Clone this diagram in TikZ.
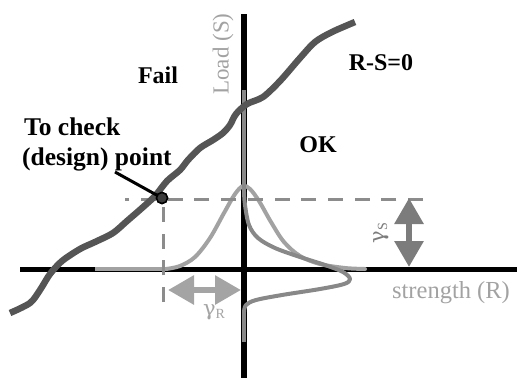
\documentclass[tikz,border=0pt]{standalone}
\usepackage{fontspec}
\setmainfont{Liberation Serif}
\newfontfamily\gfont{DejaVu Serif}
\usetikzlibrary{arrows.meta}
\definecolor{limitc}{HTML}{555555}
\definecolor{strc}{HTML}{A2A2A2}
\definecolor{loadc}{HTML}{888888}
\definecolor{dashc}{HTML}{8C8C8C}
\definecolor{gsc}{HTML}{7C7C7C}
\definecolor{grc}{HTML}{A4A4A4}
\definecolor{ptc}{HTML}{3C3C3C}
\begin{document}
\begin{tikzpicture}[x=1bp,y=-1bp,
  lbl/.style={font=\fontsize{24bp}{30bp}\selectfont\bfseries, inner sep=0pt},
  glbl/.style={font=\fontsize{23bp}{28bp}\selectfont, text=strc, inner sep=0pt},
  axisline/.style={line width=5bp, black},
  dashline/.style={line width=3bp, dashc, dash pattern=on 15bp off 11.7bp},
  bigarrow/.style={line width=6bp, {Triangle[length=26bp,width=28bp]}-{Triangle[length=26bp,width=28bp]}},
  dens/.style={line width=4bp, line join=round, line cap=round}
]
\useasboundingbox (0,0) rectangle (517,378);

% coordinates
\coordinate (hL) at (20,269);
\coordinate (hR) at (517,269);
\coordinate (vT) at (244,14);
\coordinate (vB) at (244,378);
\coordinate (sT0) at (95,269);
\coordinate (sT1) at (166,269);
\coordinate (lT0) at (244,90);
\coordinate (lT1) at (244,192);
\coordinate (lB0) at (244,312);
\coordinate (lB1) at (244,342);
\coordinate (dH0) at (423,199);
\coordinate (dH1) at (125,199);
\coordinate (dV0) at (163,302);
\coordinate (dV1) at (163,199);
\coordinate (gs1) at (409,198);
\coordinate (gs2) at (409,267);
\coordinate (gr1) at (168,290);
\coordinate (gr2) at (241,290);
\coordinate (ptr) at (115,172);

% axes
\draw[axisline] (hL) -- (hR);
\draw[axisline, line width=5.5bp] (vT) -- (vB);

% strength density (light gray)
\draw[dens, strc, line cap=butt] (sT0) -- (sT1);
\draw[dens, strc] plot[smooth, tension=0.55] coordinates {(166,269) (180,266) (195,257) (210,238) (224,213) (235,194) (243,186) (250,189) (259,201) (271,222) (284,242) (300,256) (320,264) (345,268) (365,269)};

% load density (gray)
\draw[dens, loadc, line cap=butt] (lT0) -- (lT1);
\draw[dens, loadc] plot[smooth, tension=0.55] coordinates {(244,192) (245,205) (249,225) (258,238) (275,248) (300,257) (325,265) (343,272) (350,279) (344,284) (320,289) (282,295) (256,300) (246,305) (244,312)};
\draw[dens, loadc, line cap=butt] (lB0) -- (lB1);

% dashed lines
\draw[dashline] (dH0) -- (dH1);
\draw[dashline] (dV0) -- (dV1);

% limit state curve
\draw[line width=6.5bp, limitc, line join=round] plot[smooth, tension=0.5] coordinates {(10,313) (30,303) (40,290) (50,274) (62,261) (80,249) (95,242) (113,233) (127,221) (142,208) (155,196) (167,181) (180,170) (188,160) (200,148) (213,140) (223,133) (230,125) (236,114) (247,104) (263,97) (280,81) (300,58) (315,42) (332,32) (355,22)};

% design point
\node[circle, draw=black, fill=ptc, line width=1.5bp, minimum size=11bp, inner sep=0pt] (dp) at (162,198) {};
\draw[line width=3bp, black] (ptr) -- (dp.center);
\node[circle, draw=black, fill=ptc, line width=1.5bp, minimum size=11bp, inner sep=0pt] at (dp) {};

% gamma arrows
\draw[bigarrow, gsc] (gs1) -- (gs2);
\draw[bigarrow, grc] (gr1) -- (gr2);

% labels
\node[lbl] (fail) at (158,75) {Fail};
\node[lbl] (rs) at (381,63) {R-S=0};
\node[lbl] (ok) at (318,145) {OK};
\node[lbl, anchor=base west, font=\fontsize{25.5bp}{30bp}\selectfont\bfseries] (chk1) at (24,135) {To check};
\node[lbl, anchor=base west, font=\fontsize{25.5bp}{30bp}\selectfont\bfseries] (chk2) at (22,165) {(design) point};
\node[glbl, rotate=90] (load) at (223,54) {Load (S)};
\node[glbl, anchor=base, font=\fontsize{24.5bp}{28bp}\selectfont] (str) at (451,298) {strength (R)};
\node[glbl, text=gsc, rotate=90, font=\fontsize{21bp}{28bp}\selectfont] (gS) at (381,233) {{\gfont γ}\raisebox{-0.3ex}{\fontsize{14bp}{14bp}\selectfont S}};
\node[glbl, text=grc, font=\fontsize{21bp}{28bp}\selectfont] (gR) at (214,312) {{\gfont γ}\raisebox{-0.3ex}{\fontsize{14bp}{14bp}\selectfont R}};
\end{tikzpicture}
\end{document}
